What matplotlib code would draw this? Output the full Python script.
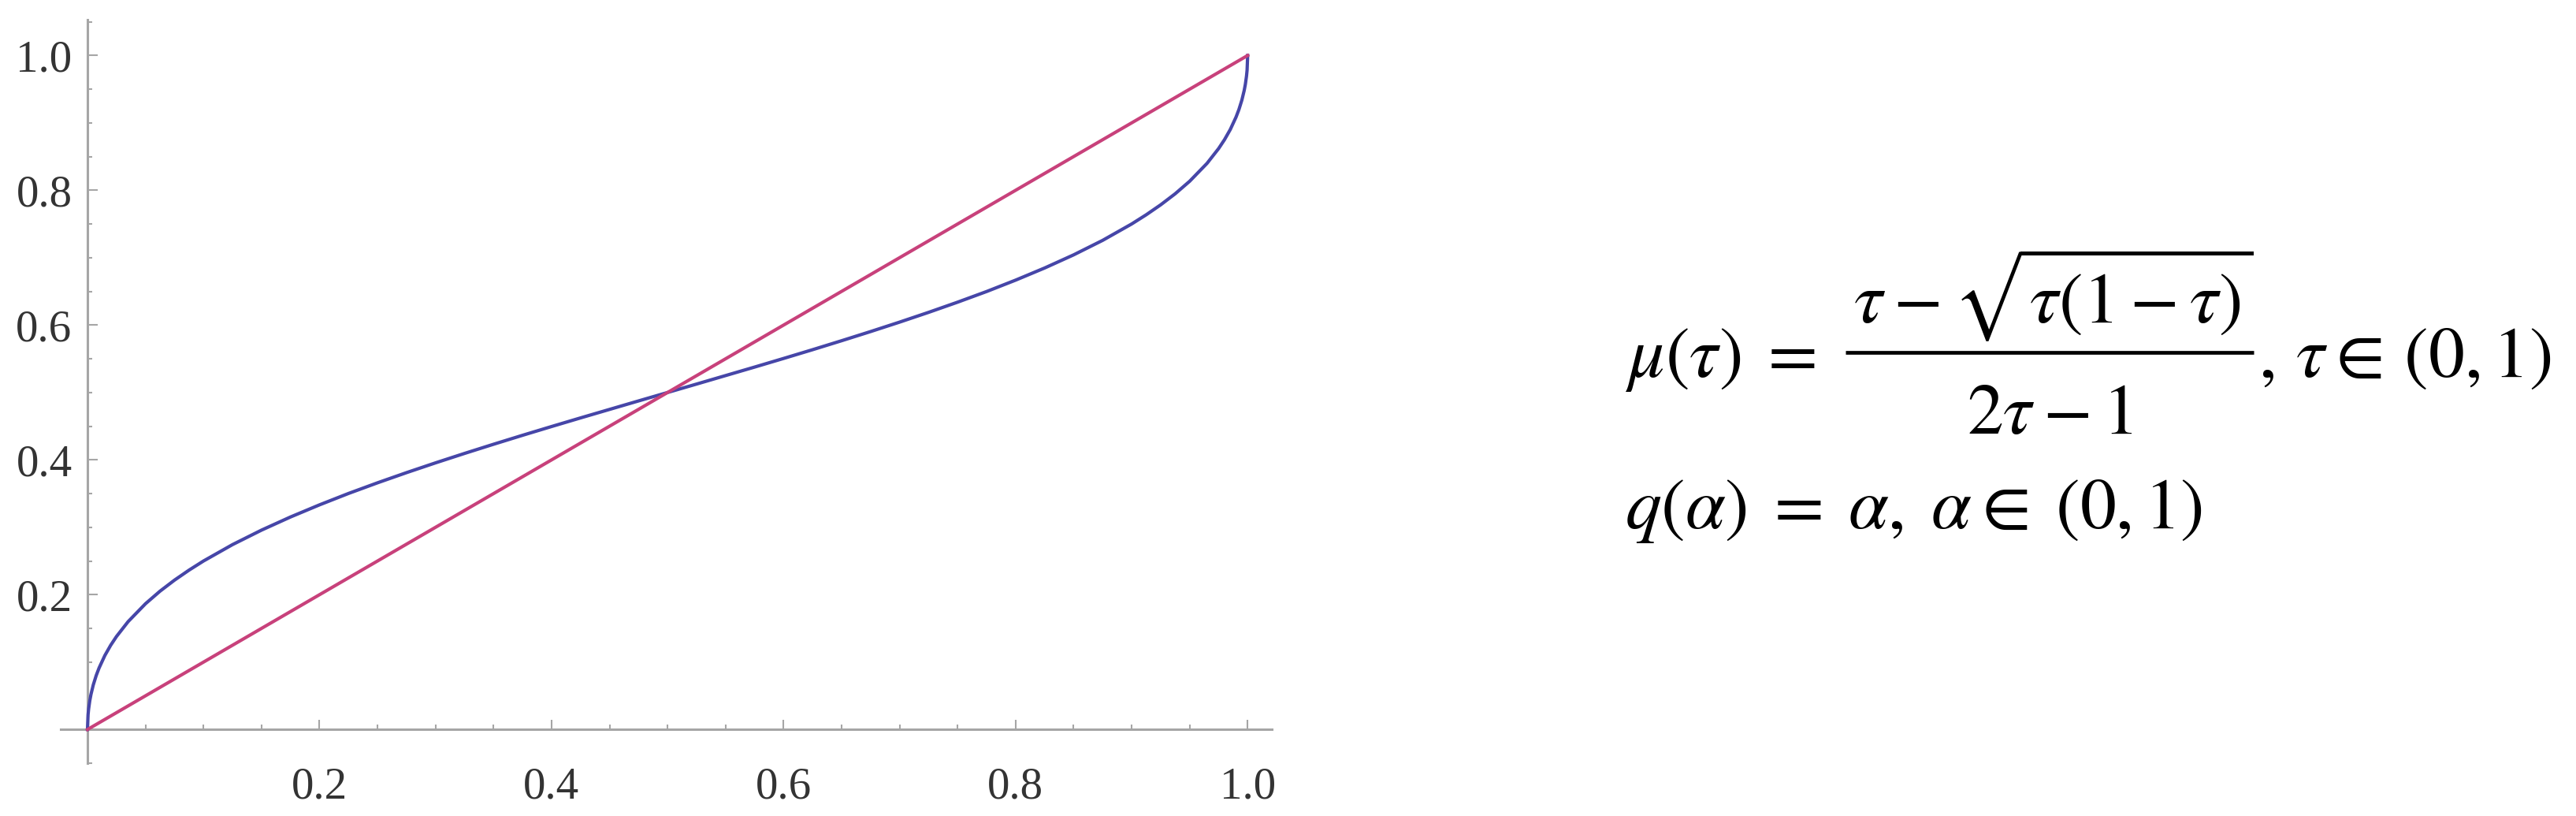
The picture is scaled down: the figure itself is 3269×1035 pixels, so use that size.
import matplotlib.pyplot as plt
from matplotlib.ticker import MultipleLocator, FixedLocator

# blue curve mu(tau)
tau = [0, 0.0005, 0.001, 0.002, 0.003, 0.005, 0.0075, 0.01, 0.015, 0.02,
       0.025, 0.035, 0.05, 0.0625, 0.075, 0.0875, 0.1, 0.125, 0.15, 0.175,
       0.2, 0.225, 0.25, 0.275, 0.3, 0.325, 0.35, 0.375, 0.4, 0.425, 0.45,
       0.475, 0.5, 0.525, 0.55, 0.575, 0.6, 0.625, 0.65, 0.675, 0.7, 0.725,
       0.75, 0.775, 0.8, 0.825, 0.85, 0.875, 0.9, 0.9125, 0.925, 0.9375,
       0.95, 0.965, 0.975, 0.98, 0.985, 0.99, 0.9925, 0.995, 0.997, 0.998,
       0.999, 0.9995, 1.0]
mu = [0, 0.0219, 0.0306, 0.0429, 0.0520, 0.0662, 0.0800, 0.0913, 0.1099,
      0.1250, 0.1380, 0.1600, 0.1866, 0.2052, 0.2216, 0.2364, 0.25, 0.2743,
      0.2958, 0.3153, 0.3333, 0.3502, 0.3660, 0.3811, 0.3956, 0.4096,
      0.4232, 0.4365, 0.4495, 0.4623, 0.4749, 0.4875, 0.5, 0.5125, 0.5251,
      0.5377, 0.5505, 0.5635, 0.5768, 0.5904, 0.6044, 0.6189, 0.6340,
      0.6498, 0.6667, 0.6847, 0.7042, 0.7257, 0.75, 0.7636, 0.7784, 0.7948,
      0.8134, 0.8400, 0.8620, 0.8750, 0.8901, 0.9087, 0.9200, 0.9338,
      0.9480, 0.9571, 0.9694, 0.9781, 1.0]

# red line q(alpha)
alpha = [0, 1]
q = [0, 1]

major_ticks = [0.2, 0.4, 0.6, 0.8, 1.0]
tick_labels = ['0.2', '0.4', '0.6', '0.8', '1.0']

plt.rcParams['mathtext.fontset'] = 'stix'

fig = plt.figure(figsize=(32.69, 10.35), dpi=100)
ax = fig.add_axes([0.0236, 0.0647, 0.4702, 0.9111])

ax.plot(tau, mu, color='#4646a8', lw=3.0, solid_joinstyle='round')
ax.plot(alpha, q, color='#c8417b', lw=3.0)

ax.set_xlim(-0.023, 1.021)
ax.set_ylim(-0.05, 1.053)

for s in ['top', 'right']:
    ax.spines[s].set_visible(False)
for s in ['left', 'bottom']:
    ax.spines[s].set_position(('data', 0))
    ax.spines[s].set_color('#a6a6a6')
    ax.spines[s].set_linewidth(2.2)
    ax.spines[s].set_zorder(0)

ax.xaxis.set_major_locator(FixedLocator(major_ticks))
ax.yaxis.set_major_locator(FixedLocator(major_ticks))
ax.set_xticklabels(tick_labels)
ax.set_yticklabels(tick_labels)
ax.xaxis.set_minor_locator(MultipleLocator(0.05))
ax.yaxis.set_minor_locator(MultipleLocator(0.05))

ax.tick_params(which='major', direction='in', length=9, width=1.5,
               color='#a6a6a6', labelsize=41, labelcolor='#333333')
ax.tick_params(which='minor', direction='in', length=4, width=1.5,
               color='#a6a6a6')
ax.tick_params(axis='x', which='major', pad=34)
ax.tick_params(axis='y', which='major', pad=14)
for lab in ax.get_xticklabels() + ax.get_yticklabels():
    lab.set_fontfamily('Liberation Serif')

# formulas, laid out in pixel coordinates on an overlay
tx = fig.add_axes([0, 0, 1, 1])
tx.set_xlim(0, 3269)
tx.set_ylim(1035, 0)
tx.axis('off')

fs = 66
tx.text(2062, 478, r'$\mu(\tau)\;=$', fontsize=fs, va='baseline', ha='left')
tx.text(2606, 410, r'$\tau-\sqrt{\tau(1-\tau)}$', fontsize=fs,
        va='baseline', ha='center')
tx.plot([2342, 2860], [447, 447], color='black', lw=3.4,
        solid_capstyle='butt')
tx.text(2601, 550, r'$2\tau-1$', fontsize=fs, va='baseline', ha='center')
tx.text(2866, 478, r'$,\,\tau\in\,(0,1)$', fontsize=fs, va='baseline',
        ha='left')
tx.text(2062, 670, r'$q(\alpha)\;=\;\alpha,\;\alpha\in\;(0,1)$',
        fontsize=fs, va='baseline', ha='left')

fig.savefig('out.png', dpi=100)
